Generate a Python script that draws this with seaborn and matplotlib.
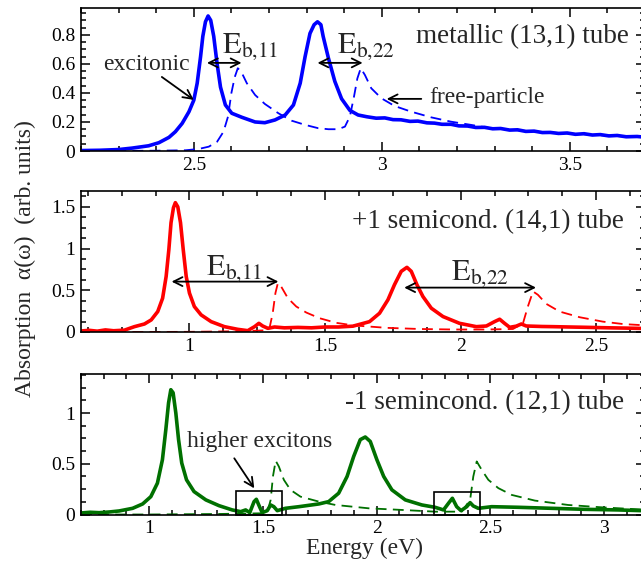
import matplotlib
matplotlib.use("Agg")
import matplotlib.pyplot as plt
import seaborn as sns
from matplotlib.patches import Rectangle
from matplotlib.ticker import MultipleLocator, FuncFormatter

# ---------------- data ----------------
# Panel 1: metallic (13,1)
x1_exc = [2.20, 2.25, 2.30, 2.336, 2.38, 2.407, 2.434, 2.451, 2.469, 2.487, 2.50, 2.509, 2.518, 2.524,
          2.531, 2.538, 2.545, 2.553, 2.562, 2.571, 2.584, 2.601, 2.628, 2.663, 2.689, 2.716, 2.743, 2.765,
          2.783, 2.796, 2.809, 2.820, 2.829, 2.838, 2.844, 2.858, 2.875, 2.893, 2.915, 2.937, 2.96, 2.985,
          3.008, 3.03, 3.051, 3.075, 3.096, 3.12, 3.14, 3.16, 3.184, 3.205, 3.228, 3.25, 3.273, 3.295,
          3.316, 3.34, 3.361, 3.383, 3.405, 3.427, 3.448, 3.47, 3.493, 3.515, 3.538, 3.56, 3.581, 3.604,
          3.626, 3.65, 3.679, 3.70]
y1_exc = [0.003, 0.005, 0.010, 0.020, 0.036, 0.057, 0.094, 0.133, 0.19, 0.27, 0.35, 0.467, 0.65, 0.79,
          0.89, 0.93, 0.90, 0.79, 0.60, 0.44, 0.317, 0.26, 0.232, 0.20, 0.195, 0.214, 0.248, 0.317,
          0.467, 0.65, 0.81, 0.87, 0.89, 0.87, 0.79, 0.64, 0.48, 0.36, 0.28, 0.248, 0.236, 0.226,
          0.228, 0.216, 0.215, 0.204, 0.206, 0.194, 0.192, 0.184, 0.184, 0.173, 0.172, 0.162, 0.163, 0.153,
          0.155, 0.144, 0.146, 0.135, 0.137, 0.127, 0.128, 0.121, 0.124, 0.115, 0.119, 0.110, 0.113, 0.104,
          0.107, 0.098, 0.100, 0.095]
x1_fp = [2.20, 2.30, 2.40, 2.478, 2.513, 2.54, 2.562, 2.579, 2.591, 2.60, 2.609, 2.617, 2.626, 2.641,
         2.663, 2.689, 2.725, 2.76, 2.796, 2.831, 2.858, 2.884, 2.902, 2.915, 2.926, 2.935, 2.944, 2.955,
         2.972, 2.999, 3.034, 3.078, 3.131, 3.184, 3.237, 3.29, 3.35, 3.40, 3.45, 3.50, 3.55, 3.60, 3.65, 3.70]
y1_fp = [0.0, 0.001, 0.002, 0.005, 0.014, 0.03, 0.064, 0.133, 0.237, 0.40, 0.51, 0.57, 0.547, 0.467,
         0.386, 0.324, 0.26, 0.209, 0.18, 0.157, 0.15, 0.15, 0.168, 0.237, 0.374, 0.50, 0.57, 0.524,
         0.432, 0.363, 0.31, 0.271, 0.232, 0.202, 0.18, 0.157, 0.145, 0.135, 0.127, 0.12, 0.113, 0.106, 0.10, 0.095]

# Panel 2: +1 semiconducting (14,1)
x2_exc = [0.60, 0.63, 0.66, 0.69, 0.72, 0.76, 0.797, 0.834, 0.859, 0.883, 0.901, 0.914, 0.924, 0.932,
          0.941, 0.948, 0.957, 0.967, 0.977, 0.988, 1.0, 1.018, 1.043, 1.08, 1.129, 1.178, 1.215, 1.24,
          1.256, 1.27, 1.289, 1.314, 1.35, 1.40, 1.45, 1.50, 1.55, 1.603, 1.664, 1.701, 1.732, 1.756,
          1.781, 1.802, 1.818, 1.839, 1.861, 1.892, 1.935, 1.996, 2.058, 2.095, 2.125, 2.144, 2.162,
          2.181, 2.205, 2.224, 2.242, 2.30, 2.341, 2.40, 2.464, 2.55, 2.62, 2.68]
y2_exc = [0.012, 0.02, 0.01, 0.025, 0.015, 0.022, 0.064, 0.096, 0.145, 0.245, 0.405, 0.666, 0.988, 1.31,
          1.49, 1.55, 1.50, 1.31, 0.988, 0.666, 0.466, 0.305, 0.205, 0.124, 0.064, 0.032, 0.016, 0.064,
          0.104, 0.072, 0.044, 0.06, 0.05, 0.055, 0.05, 0.06, 0.06, 0.07, 0.124, 0.225, 0.386, 0.566,
          0.727, 0.775, 0.727, 0.566, 0.425, 0.285, 0.185, 0.104, 0.064, 0.072, 0.124, 0.153, 0.104,
          0.056, 0.07, 0.096, 0.072, 0.066, 0.064, 0.06, 0.056, 0.05, 0.046, 0.042]
x2_fp = [0.60, 0.80, 1.00, 1.20, 1.28, 1.295, 1.307, 1.317, 1.326, 1.338, 1.363, 1.394, 1.431, 1.48,
         1.541, 1.603, 1.726, 1.849, 1.972, 2.095, 2.193, 2.23, 2.248, 2.267, 2.285, 2.316, 2.365,
         2.439, 2.525, 2.60, 2.68]
y2_fp = [0.0, 0.0, 0.002, 0.01, 0.02, 0.044, 0.225, 0.466, 0.586, 0.546, 0.405, 0.305, 0.233, 0.165,
         0.11, 0.08, 0.05, 0.036, 0.03, 0.03, 0.036, 0.104, 0.305, 0.486, 0.446, 0.337, 0.245,
         0.177, 0.124, 0.095, 0.08]

# Panel 3: -1 semiconducting (12,1)
x3_exc = [0.70, 0.74, 0.78, 0.825, 0.868, 0.927, 0.971, 1.007, 1.036, 1.058, 1.073, 1.085, 1.095, 1.105,
          1.117, 1.129, 1.143, 1.164, 1.197, 1.249, 1.307, 1.365, 1.402, 1.424, 1.442, 1.461, 1.471,
          1.485, 1.497, 1.519, 1.534, 1.548, 1.563, 1.599, 1.658, 1.746, 1.789, 1.833, 1.87, 1.899,
          1.928, 1.95, 1.972, 2.001, 2.031, 2.067, 2.126, 2.199, 2.257, 2.294, 2.316, 2.333, 2.352,
          2.371, 2.396, 2.411, 2.425, 2.447, 2.506, 2.623, 2.769, 2.915, 3.061, 3.18]
y3_exc = [0.015, 0.022, 0.018, 0.025, 0.035, 0.061, 0.104, 0.176, 0.309, 0.54, 0.837, 1.10, 1.23, 1.20,
          1.0, 0.738, 0.507, 0.342, 0.226, 0.144, 0.087, 0.045, 0.028, 0.045, 0.018, 0.127, 0.15,
          0.077, 0.018, 0.038, 0.094, 0.077, 0.038, 0.061, 0.077, 0.104, 0.127, 0.21, 0.375, 0.572,
          0.738, 0.764, 0.72, 0.54, 0.375, 0.243, 0.144, 0.094, 0.071, 0.045, 0.111, 0.16, 0.077,
          0.038, 0.077, 0.117, 0.084, 0.061, 0.077, 0.071, 0.061, 0.051, 0.045, 0.037]
x3_fp = [0.70, 1.0, 1.3, 1.50, 1.519, 1.534, 1.544, 1.556, 1.57, 1.592, 1.621, 1.665, 1.746, 1.819,
         1.965, 2.111, 2.257, 2.374, 2.411, 2.425, 2.44, 2.462, 2.491, 2.535, 2.594, 2.696, 2.842,
         2.988, 3.149, 3.18]
y3_fp = [0.0, 0.0, 0.005, 0.012, 0.02, 0.144, 0.375, 0.53, 0.473, 0.342, 0.243, 0.176, 0.127, 0.094,
         0.061, 0.045, 0.028, 0.028, 0.144, 0.375, 0.523, 0.44, 0.342, 0.26, 0.193, 0.137, 0.094,
         0.071, 0.051, 0.048]

panel_titles = ["metallic (13,1) tube", "+1 semicond. (14,1) tube", "-1 semincond. (12,1) tube"]
colors = ["#0000ff", "#ff0000", "#007000"]
xlims = [(2.2, 3.7), (0.6, 2.68), (0.7, 3.18)]
ylims = [(0, 0.985), (0, 1.69), (0, 1.385)]
x_minor = [0.1, 0.125, 0.1]
y_major = [0.2, 0.5, 0.5]
y_minor = [0.05, 0.125, 0.125]
title_pos = [(3.657, 0.786), (2.603, 1.32), (3.088, 1.10)]

# ---------------- style ----------------
sns.set_style("ticks")
plt.rcParams["font.family"] = ["Liberation Serif", "DejaVu Serif"]
plt.rcParams["mathtext.fontset"] = "stix"

W, H = 641, 561
fig = plt.figure(figsize=(W / 100, H / 100), dpi=100)
left_px, right_px = 81, 645
boxes_px = [(8, 151), (191, 332), (374, 514.5)]
axes = []
for top, bot in boxes_px:
    ax = fig.add_axes([left_px / W, 1 - bot / H, (right_px - left_px) / W, (bot - top) / H])
    axes.append(ax)

data = [(x1_exc, y1_exc, x1_fp, y1_fp), (x2_exc, y2_exc, x2_fp, y2_fp), (x3_exc, y3_exc, x3_fp, y3_fp)]
fmt = FuncFormatter(lambda v, p: "%g" % round(v, 3))

for i, ax in enumerate(axes):
    xe, ye, xf, yf = data[i]
    sns.lineplot(x=xf, y=yf, ax=ax, color=colors[i], lw=1.3, sort=False, estimator=None,
                 linestyle=(0, (6, 3.5)))
    sns.lineplot(x=xe, y=ye, ax=ax, color=colors[i], lw=2.6, sort=False, estimator=None,
                 solid_joinstyle="round", solid_capstyle="round")
    ax.set_xlim(*xlims[i])
    ax.set_ylim(*ylims[i])
    ax.xaxis.set_major_locator(MultipleLocator(0.5))
    ax.xaxis.set_minor_locator(MultipleLocator(x_minor[i]))
    ax.yaxis.set_major_locator(MultipleLocator(y_major[i]))
    ax.yaxis.set_minor_locator(MultipleLocator(y_minor[i]))
    ax.xaxis.set_major_formatter(fmt)
    ax.yaxis.set_major_formatter(fmt)
    ax.tick_params(which="both", direction="in", top=True, right=True, width=1.1, labelsize=14,
                   colors="black")
    ax.tick_params(which="major", length=6.5, pad=4)
    ax.tick_params(which="minor", length=3.5)
    for s in ax.spines.values():
        s.set_linewidth(1.2)
        s.set_color("black")
    ax.set_xlabel("")
    ax.set_ylabel("")
    tx, ty = title_pos[i]
    ax.text(tx, ty, panel_titles[i], ha="right", va="center", fontsize=19.5)

arrow2 = dict(arrowstyle="<->", lw=1.3, color="black", mutation_scale=16, shrinkA=0, shrinkB=0)
arrow1 = dict(arrowstyle="->", lw=1.3, color="black", mutation_scale=16, shrinkA=0, shrinkB=0)

lab11 = r"$\mathrm{E}_{\mathrm{b{,}11}}$"
lab22 = r"$\mathrm{E}_{\mathrm{b{,}22}}$"

# Panel 1 annotations
a = axes[0]
a.annotate("", xy=(2.535, 0.607), xytext=(2.627, 0.607), arrowprops=arrow2)
a.text(2.574, 0.676, lab11, fontsize=22, ha="left", va="baseline")
a.annotate("", xy=(2.829, 0.607), xytext=(2.949, 0.607), arrowprops=arrow2)
a.text(2.88, 0.676, lab22, fontsize=22, ha="left", va="baseline")
a.text(2.375, 0.593, "excitonic", fontsize=17, ha="center", va="center")
a.annotate("", xy=(2.5, 0.352), xytext=(2.415, 0.51), arrowprops=arrow1)
a.text(3.126, 0.366, "free-particle", fontsize=17, ha="left", va="center")
a.annotate("", xy=(3.013, 0.359), xytext=(3.105, 0.359), arrowprops=arrow1)

# Panel 2 annotations
a = axes[1]
a.annotate("", xy=(0.934, 0.604), xytext=(1.328, 0.604), arrowprops=arrow2)
a.text(1.062, 0.684, lab11, fontsize=22, ha="left", va="baseline")
a.annotate("", xy=(1.792, 0.532), xytext=(2.278, 0.532), arrowprops=arrow2)
a.text(1.965, 0.624, lab22, fontsize=22, ha="left", va="baseline")

# Panel 3 annotations
a = axes[2]
box_x = [(1.381, 1.583), (2.25, 2.455)]
box_top = [0.231, 0.219]
for (bx0, bx1), bt in zip(box_x, box_top):
    a.add_patch(Rectangle((bx0, 0.0), bx1 - bx0, bt, fill=False, lw=1.2, ec="black", zorder=5,
                          clip_on=False))
a.text(1.484, 0.717, "higher excitons", fontsize=17, ha="center", va="center")
a.annotate("", xy=(1.462, 0.258), xytext=(1.374, 0.554), arrowprops=arrow1)

fig.text(25 / W, 1 - 259 / H, "Absorption  α(ω)  (arb. units)", rotation=90, ha="center", va="center",
         fontsize=17)
fig.text(365 / W, 1 - 548 / H, "Energy (eV)", ha="center", va="center", fontsize=17)

fig.savefig("out.png", dpi=100)
